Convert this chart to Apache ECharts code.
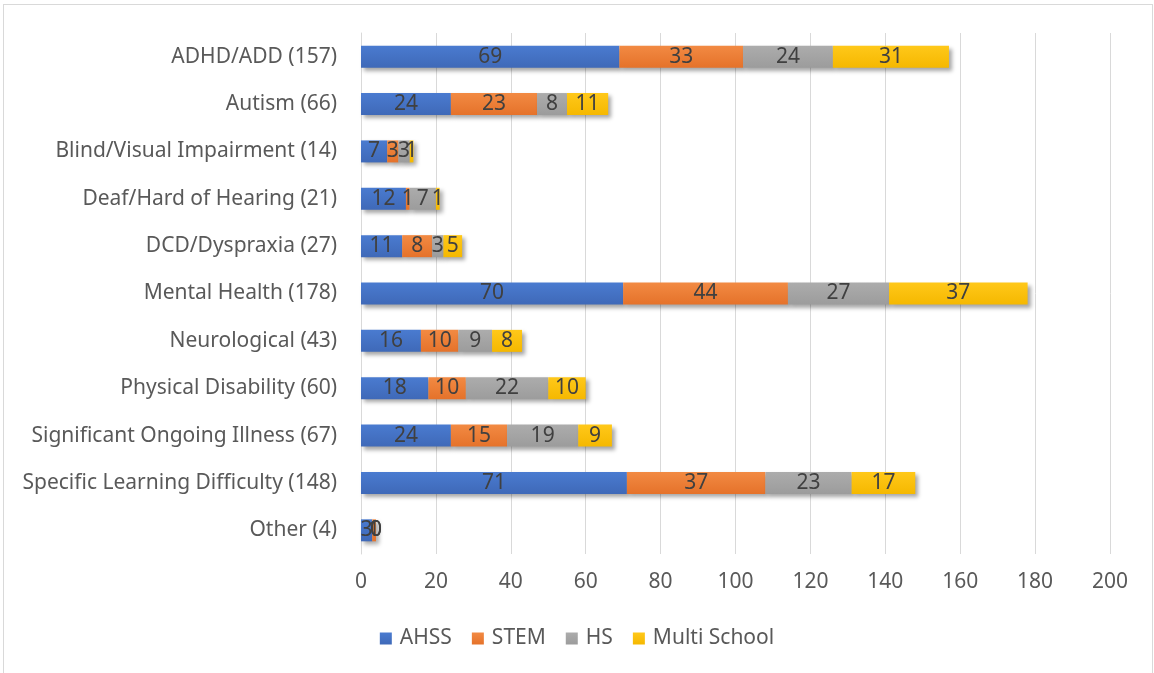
<!DOCTYPE html>
<html>
<head>
<meta charset="utf-8">
<script src="https://cdn.jsdelivr.net/npm/echarts@6/dist/echarts.min.js"></script>
<style>
  html, body { margin: 0; padding: 0; background: #fff; }
  #frame { position: absolute; left: 3px; top: 4px; width: 1150px; height: 672px; border: 1px solid #d9d9d9; box-sizing: border-box; }
  #chart { position: absolute; left: 0; top: 0; width: 1154px; height: 673px; }
</style>
</head>
<body>
<div id="frame"></div>
<div id="chart"></div>
<script>
// categories, top to bottom as shown
const categories = [
  'ADHD/ADD (157)', 'Autism (66)', 'Blind/Visual Impairment (14)', 'Deaf/Hard of Hearing (21)',
  'DCD/Dyspraxia (27)', 'Mental Health (178)', 'Neurological (43)', 'Physical Disability (60)',
  'Significant Ongoing Illness (67)', 'Specific Learning Difficulty (148)', 'Other (4)'
]
const ahss = [69, 24, 7, 12, 11, 70, 16, 18, 24, 71, 3]
const stem = [33, 23, 3, 1, 8, 44, 10, 10, 15, 37, 1]
const hs = [24, 8, 3, 7, 3, 27, 9, 22, 19, 23, 0]
const multi = [31, 11, 1, 1, 5, 37, 8, 10, 9, 17, 0]
const xTicks = [0, 200, 20] // min, max, interval

const FONT = 'Noto Sans'
const FS = 21
const chart = echarts.init(document.getElementById('chart'))

// 每个系列的公共样式
function makeSeries(name, data, c1, c2) {
  return {
    name: name,
    type: 'bar',
    stack: 'total',
    barWidth: 22,
    data: data,
    label: {
      show: true,
      position: 'inside',
      color: '#404040',
      fontFamily: FONT,
      fontSize: FS
    },
    itemStyle: {
      color: new echarts.graphic.LinearGradient(0, 0, 0, 1, [
        { offset: 0, color: c1 },
        { offset: 1, color: c2 }
      ]),
      shadowColor: 'rgba(0,0,0,0.35)',
      shadowBlur: 4,
      shadowOffsetX: 3,
      shadowOffsetY: 3
    }
  }
}

const option = {
  animation: false,
  textStyle: { fontFamily: FONT },
  grid: { left: 361, right: 44, top: 33, bottom: 119 },
  legend: {
    bottom: 19,
    left: 'center',
    itemWidth: 12,
    itemHeight: 12,
    itemGap: 20,
    icon: 'rect',
    textStyle: { color: '#595959', fontSize: FS, fontFamily: FONT, padding: [0, 0, 0, 3] },
    data: ['AHSS', 'STEM', 'HS', 'Multi School']
  },
  xAxis: {
    type: 'value',
    min: xTicks[0],
    max: xTicks[1],
    interval: xTicks[2],
    axisLine: { show: false },
    axisTick: { show: false },
    axisLabel: { color: '#595959', fontSize: FS, fontFamily: FONT, margin: 18 },
    splitLine: { lineStyle: { color: '#d9d9d9', width: 1 } }
  },
  yAxis: {
    type: 'category',
    inverse: true,
    data: categories,
    axisLine: { show: true, lineStyle: { color: '#d9d9d9' } },
    axisTick: { show: false },
    axisLabel: { color: '#595959', fontSize: FS, fontFamily: FONT, margin: 24 }
  },
  series: [
    makeSeries('AHSS', ahss, '#4a7bd0', '#3f69b8'),
    makeSeries('STEM', stem, '#f28a43', '#e5722a'),
    makeSeries('HS', hs, '#acacac', '#9c9c9c'),
    makeSeries('Multi School', multi, '#ffc81a', '#f5b800')
  ]
}

chart.setOption(option)
</script>
</body>
</html>
